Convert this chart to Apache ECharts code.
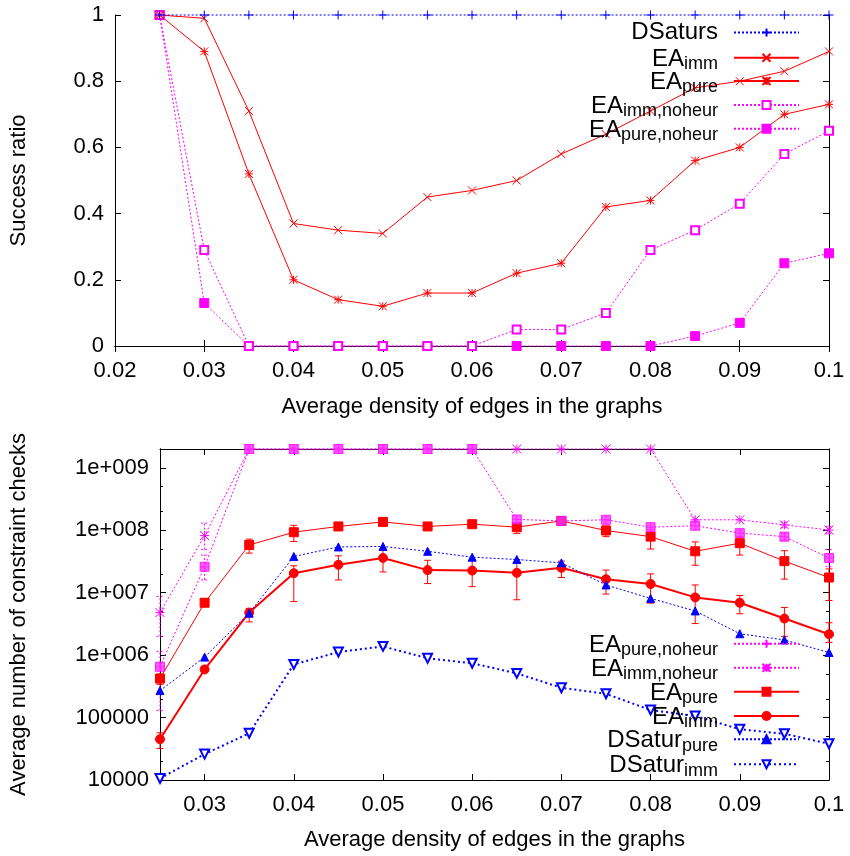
<!DOCTYPE html>
<html>
<head>
<meta charset="utf-8">
<script src="https://cdn.jsdelivr.net/npm/echarts/dist/echarts.min.js"></script>
<style>html,body{margin:0;padding:0;background:#fff}#c{width:850px;height:856px}</style>
</head>
<body>
<div id="c"></div>
<script>
// ---------- data ----------
const densities = [0.025, 0.03, 0.035, 0.04, 0.045, 0.05, 0.055, 0.06, 0.065, 0.07, 0.075, 0.08, 0.085, 0.09, 0.095, 0.1];

// top chart: success ratio
const topDSaturs      = [1, 1, 1, 1, 1, 1, 1, 1, 1, 1, 1, 1, 1, 1, 1, 1];
const topEAimm        = [1, 0.99, 0.71, 0.37, 0.35, 0.34, 0.45, 0.47, 0.50, 0.58, 0.64, 0.71, 0.78, 0.80, 0.83, 0.89];
const topEApure       = [1, 0.89, 0.52, 0.20, 0.14, 0.12, 0.16, 0.16, 0.22, 0.25, 0.42, 0.44, 0.56, 0.60, 0.70, 0.73];
const topEAimmNoheur  = [1, 0.29, 0, 0, 0, 0, 0, 0, 0.05, 0.05, 0.10, 0.29, 0.35, 0.43, 0.58, 0.65];
const topEApureNoheur = [1, 0.13, 0, 0, 0, 0, 0, 0, 0, 0, 0, 0, 0.03, 0.07, 0.25, 0.28];

// bottom chart: average number of constraint checks
const botEApureNoheur = [6.5e5, 2.6e7, 2e9, 2e9, 2e9, 2e9, 2e9, 2e9, 1.49e8, 1.41e8, 1.47e8, 1.12e8, 1.18e8, 9.0e7, 7.9e7, 3.6e7];
const botEApureNoheurLow  = [1.3e5, 1.6e7, null, null, null, null, null, null, null, null, null, null, null, 8.0e7, 6.8e7, 2.6e7];
const botEApureNoheurHigh = [1.15e6, 4.0e7, null, null, null, null, null, null, null, null, null, null, null, 1.0e8, 9.0e7, 4.9e7];
const botEAimmNoheur  = [4.8e6, 8.2e7, 2e9, 2e9, 2e9, 2e9, 2e9, 2e9, 2e9, 2e9, 2e9, 2e9, 1.47e8, 1.47e8, 1.22e8, 1.01e8];
const botEAimmNoheurLow  = [2.0e6, 4.9e7, null, null, null, null, null, null, null, null, null, null, null, null, 1.1e8, 8.8e7];
const botEAimmNoheurHigh = [8.7e6, 1.3e8, null, null, null, null, null, null, null, null, null, null, null, null, 1.35e8, 1.15e8];
const botEApure       = [4.2e5, 6.9e6, 5.8e7, 9.3e7, 1.15e8, 1.36e8, 1.15e8, 1.25e8, 1.12e8, 1.41e8, 9.9e7, 7.9e7, 4.6e7, 6.2e7, 3.2e7, 1.75e7];
const botEApureLow    = [3.4e5, 6.3e6, 4.3e7, 6.6e7, 1.0e8, 1.25e8, 1.05e8, 1.15e8, 8.9e7, 1.3e8, 7.9e7, 5.0e7, 2.75e7, 4.0e7, 1.65e7, 7.5e6];
const botEApureHigh   = [5.0e5, 7.5e6, 7.2e7, 1.2e8, 1.3e8, 1.5e8, 1.25e8, 1.35e8, 1.3e8, 1.5e8, 1.17e8, 1.03e8, 6.5e7, 7.9e7, 4.7e7, 2.4e7];
const botEAimm        = [4.5e4, 5.9e5, 4.8e6, 2.05e7, 2.8e7, 3.6e7, 2.3e7, 2.26e7, 2.08e7, 2.5e7, 1.64e7, 1.38e7, 8.4e6, 6.9e6, 3.85e6, 2.16e6];
const botEAimmLow     = [3.2e4, 5.4e5, 3.4e6, 7.2e6, 1.6e7, 2.15e7, 1.4e7, 1.25e7, 7.7e6, 1.75e7, 9.5e6, 6.8e6, 3.2e6, 4.6e6, 2.0e6, 1.6e6];
const botEAimmHigh    = [5.7e4, 6.6e5, 5.6e6, 2.7e7, 3.9e7, 4.9e7, 3.3e7, 3.3e7, 3.4e7, 3.2e7, 2.3e7, 2.0e7, 1.33e7, 9.0e6, 5.8e6, 3.3e6];
const botDSaturPure   = [2.7e5, 9.3e5, 4.7e6, 3.8e7, 5.4e7, 5.5e7, 4.6e7, 3.7e7, 3.4e7, 3.0e7, 1.33e7, 8.1e6, 5.1e6, 2.2e6, 1.75e6, 1.1e6];
const botDSaturImm    = [1.06e4, 2.6e4, 5.6e4, 7.1e5, 1.12e6, 1.38e6, 8.9e5, 7.4e5, 5.1e5, 3.0e5, 2.4e5, 1.32e5, 1.06e5, 6.5e4, 5.5e4, 3.8e4];

// ticks
const topXTicks = [0.02, 0.03, 0.04, 0.05, 0.06, 0.07, 0.08, 0.09, 0.1];
const topXTickLabels = ['0.02', '0.03', '0.04', '0.05', '0.06', '0.07', '0.08', '0.09', '0.1'];
const topYTickLabels = ['0', '0.2', '0.4', '0.6', '0.8', '1'];
const botXTicks = [0.03, 0.04, 0.05, 0.06, 0.07, 0.08, 0.09, 0.1];
const botXTickLabels = ['0.03', '0.04', '0.05', '0.06', '0.07', '0.08', '0.09', '0.1'];
const botYTicks = [1e4, 1e5, 1e6, 1e7, 1e8, 1e9];
const botYTickLabels = ['10000', '100000', '1e+006', '1e+007', '1e+008', '1e+009'];
const botYMinorMultipliers = [2, 5];

// ---------- styling ----------
const FONT = "'Liberation Sans', Arial, Helvetica, sans-serif";
const RED = '#ff0000', BLUE = '#0000ff', MAG = '#ff00ff';
const SYM_PLUS = 'path://M5,0V10M0,5H10';
const SYM_X = 'path://M0,0L10,10M10,0L0,10';
const SYM_STAR = 'path://M0,0L10,10M10,0L0,10M5,0V10M0,5H10';

const minorTicks = [];
for (let e = 4; e <= 9; e++) botYMinorMultipliers.forEach(m => { const v = m * Math.pow(10, e); if (v <= 2e9) minorTicks.push(v); });

const pairs = arr => densities.map((x, i) => [x, arr[i]]);

function lineSeries(name, arr, xi, yi, o) {
  return {
    type: 'line', name, xAxisIndex: xi, yAxisIndex: yi, data: pairs(arr), clip: false,
    symbol: o.symbol, symbolSize: o.size, symbolRotate: o.rotate || 0,
    lineStyle: { color: o.color, width: o.width || 1, type: o.dash || 'solid' },
    itemStyle: { color: o.color, borderColor: o.color, borderWidth: o.bw == null ? 1 : o.bw },
    z: o.z || 3, animation: false
  };
}

function errorSeries(name, lows, highs, xi, yi, color, dash) {
  const data = [];
  densities.forEach((x, i) => { if (lows[i] != null) data.push([x, lows[i], highs[i]]); });
  return {
    type: 'custom', name, xAxisIndex: xi, yAxisIndex: yi, silent: true, z: 2, clip: false,
    data, encode: { x: 0, y: [1, 2] }, animation: false,
    renderItem: (params, api) => {
      const x = api.value(0);
      const lo = api.coord([x, api.value(1)]);
      const hi = api.coord([x, api.value(2)]);
      const w = 3.5;
      const style = { stroke: color, lineWidth: 1, fill: null, lineDash: dash || null };
      return { type: 'group', children: [
        { type: 'line', shape: { x1: lo[0], y1: lo[1], x2: hi[0], y2: hi[1] }, style },
        { type: 'line', shape: { x1: lo[0] - w, y1: lo[1], x2: lo[0] + w, y2: lo[1] }, style },
        { type: 'line', shape: { x1: hi[0] - w, y1: hi[1], x2: hi[0] + w, y2: hi[1] }, style }
      ]};
    }
  };
}

const legendText = {
  fontFamily: FONT, fontSize: 24, color: '#000', padding: [0, 11, 0, 0],
  rich: {
    m: { fontFamily: FONT, fontSize: 24, lineHeight: 25, color: '#000' },
    ms: { fontFamily: FONT, fontSize: 24, lineHeight: 25, color: '#000', padding: [3, 0, 0, 0] },
    s: { fontFamily: FONT, fontSize: 18, color: '#000', padding: [13, 0, 0, 0] }
  }
};
function legendFmt(name) {
  const n = name.trim();
  const i = n.indexOf('_');
  if (i < 0) return '{m|' + n + '}';
  return '{ms|' + n.slice(0, i) + '}{s|' + n.slice(i + 1) + '}';
}
function legendItem(name, centerY) {
  const hasSub = name.indexOf('_') >= 0;
  const off = hasSub ? -12.5 : -12.5;
  return {
    data: [name], orient: 'vertical', right: 50, top: centerY + off, align: 'right',
    itemWidth: 65, itemHeight: 10, padding: 0, selectedMode: false,
    formatter: legendFmt, textStyle: legendText
  };
}

const axisLineStyle = { show: true, lineStyle: { color: '#000', width: 1 } };
const labelStyle = { fontFamily: FONT, fontSize: 22, color: '#000' };
const nameStyle = { fontFamily: FONT, fontSize: 22, color: '#000' };

const option = {
  backgroundColor: '#fff',
  animation: false,
  grid: [
    { left: 115, right: 21, top: 15, height: 331 },
    { left: 160, right: 21, top: 449, height: 331 }
  ],
  xAxis: [
    { gridIndex: 0, type: 'value', position: 'bottom', min: 0.02, max: 0.1, interval: 0.01,
      axisLine: axisLineStyle, splitLine: { show: false },
      axisTick: { inside: true, length: 6, lineStyle: { color: '#000' } },
      axisLabel: Object.assign({ margin: 14, formatter: v => { const i = topXTicks.findIndex(t => Math.abs(t - v) < 1e-9); return i >= 0 ? topXTickLabels[i] : ''; } }, labelStyle),
      name: 'Average density of edges in the graphs', nameLocation: 'middle', nameGap: 50, nameTextStyle: nameStyle },
    { gridIndex: 0, type: 'value', position: 'top', min: 0.02, max: 0.1, interval: 0.01,
      axisLine: axisLineStyle, splitLine: { show: false },
      axisTick: { inside: true, length: 6, lineStyle: { color: '#000' } }, axisLabel: { show: false } },
    { gridIndex: 1, type: 'value', position: 'bottom', min: 0.025, max: 0.1,
      axisLine: axisLineStyle, splitLine: { show: false },
      axisTick: { inside: true, length: 6, customValues: botXTicks, lineStyle: { color: '#000' } },
      axisLabel: Object.assign({ margin: 14, customValues: botXTicks, formatter: v => { const i = botXTicks.findIndex(t => Math.abs(t - v) < 1e-9); return i >= 0 ? botXTickLabels[i] : ''; } }, labelStyle),
      name: 'Average density of edges in the graphs', nameLocation: 'middle', nameGap: 49, nameTextStyle: nameStyle },
    { gridIndex: 1, type: 'value', position: 'top', min: 0.025, max: 0.1,
      axisLine: axisLineStyle, splitLine: { show: false },
      axisTick: { inside: true, length: 6, customValues: botXTicks, lineStyle: { color: '#000' } },
      axisLabel: { show: false, customValues: botXTicks } }
  ],
  yAxis: [
    { gridIndex: 0, type: 'value', position: 'left', min: 0, max: 1, interval: 0.2,
      axisLine: axisLineStyle, splitLine: { show: false },
      axisTick: { inside: true, length: 6, lineStyle: { color: '#000' } },
      axisLabel: Object.assign({ margin: 11, formatter: v => topYTickLabels[Math.round(v * 5)] }, labelStyle),
      name: 'Success ratio', nameLocation: 'middle', nameGap: 85, nameRotate: 90, nameTextStyle: nameStyle },
    { gridIndex: 0, type: 'value', position: 'right', min: 0, max: 1, interval: 0.2,
      axisLine: axisLineStyle, splitLine: { show: false },
      axisTick: { inside: true, length: 6, lineStyle: { color: '#000' } }, axisLabel: { show: false } },
    { gridIndex: 1, type: 'log', logBase: 10, position: 'left', min: 1e4, max: 2e9,
      axisLine: axisLineStyle, splitLine: { show: false },
      axisTick: { inside: true, length: 6, customValues: botYTicks, lineStyle: { color: '#000' } },
      axisLabel: Object.assign({ margin: 11, customValues: botYTicks, formatter: v => { const i = botYTicks.findIndex(t => Math.abs(t - v) / t < 1e-6); return i >= 0 ? botYTickLabels[i] : ''; } }, labelStyle),
      name: 'Average number of constraint checks', nameLocation: 'middle', nameGap: 130, nameRotate: 90, nameTextStyle: nameStyle },
    { gridIndex: 1, type: 'log', logBase: 10, position: 'left', min: 1e4, max: 2e9,
      axisLine: axisLineStyle, splitLine: { show: false },
      axisTick: { inside: true, length: 3, customValues: minorTicks, lineStyle: { color: '#000' } },
      axisLabel: { show: false, customValues: minorTicks } },
    { gridIndex: 1, type: 'log', logBase: 10, position: 'right', min: 1e4, max: 2e9,
      axisLine: axisLineStyle, splitLine: { show: false },
      axisTick: { inside: true, length: 6, customValues: botYTicks, lineStyle: { color: '#000' } },
      axisLabel: { show: false, customValues: botYTicks } },
    { gridIndex: 1, type: 'log', logBase: 10, position: 'right', min: 1e4, max: 2e9,
      axisLine: axisLineStyle, splitLine: { show: false },
      axisTick: { inside: true, length: 3, customValues: minorTicks, lineStyle: { color: '#000' } },
      axisLabel: { show: false, customValues: minorTicks } }
  ],
  legend: [
    legendItem('DSaturs', 33),
    legendItem('EA_imm', 56.7),
    legendItem('EA_pure', 80),
    legendItem('EA_imm,noheur', 104),
    legendItem('EA_pure,noheur', 127.7),
    legendItem('EA_pure,noheur ', 642.7),
    legendItem('EA_imm,noheur ', 666.7),
    legendItem('EA_pure ', 690.7),
    legendItem('EA_imm ', 715),
    legendItem('DSatur_pure', 738.3),
    legendItem('DSatur_imm', 763.3)
  ],
  series: [
    // top chart
    lineSeries('EA_pure,noheur', topEApureNoheur, 0, 0, { color: MAG, symbol: 'rect', size: 9, dash: [2, 2] }),
    lineSeries('EA_imm,noheur', topEAimmNoheur, 0, 0, { color: MAG, symbol: 'emptyRect', size: 8, dash: [2, 2] }),
    lineSeries('EA_pure', topEApure, 0, 0, { color: RED, symbol: SYM_STAR, size: 8 }),
    lineSeries('EA_imm', topEAimm, 0, 0, { color: RED, symbol: SYM_X, size: 8 }),
    lineSeries('DSaturs', topDSaturs, 0, 0, { color: BLUE, symbol: SYM_PLUS, size: 9, dash: [2, 2], z: 5 }),
    // bottom chart
    errorSeries('err_pnh', botEApureNoheurLow, botEApureNoheurHigh, 2, 2, MAG, [2, 2]),
    errorSeries('err_inh', botEAimmNoheurLow, botEAimmNoheurHigh, 2, 2, MAG, [2, 2]),
    errorSeries('err_pure', botEApureLow, botEApureHigh, 2, 2, RED),
    errorSeries('err_imm', botEAimmLow, botEAimmHigh, 2, 2, RED),
    lineSeries('EA_pure,noheur ', botEApureNoheur, 2, 2, { color: MAG, symbol: SYM_PLUS, size: 9, dash: [2, 2] }),
    { type: 'scatter', name: 'pnh_box', xAxisIndex: 2, yAxisIndex: 2, data: pairs(botEApureNoheur), symbol: 'rect', symbolSize: 9,
      itemStyle: { color: '#ff33ff', borderColor: MAG, borderWidth: 1 }, z: 4, clip: false, silent: true, animation: false },
    lineSeries('EA_imm,noheur ', botEAimmNoheur, 2, 2, { color: MAG, symbol: SYM_STAR, size: 9, dash: [2, 2] }),
    lineSeries('EA_pure ', botEApure, 2, 2, { color: RED, symbol: 'rect', size: 9 }),
    lineSeries('EA_imm ', botEAimm, 2, 2, { color: RED, symbol: 'circle', size: 9, width: 2 }),
    lineSeries('DSatur_pure', botDSaturPure, 2, 2, { color: BLUE, symbol: 'triangle', size: 8, dash: [2, 2] }),
    lineSeries('DSatur_imm', botDSaturImm, 2, 2, { color: BLUE, symbol: 'emptyTriangle', rotate: 180, size: 9, width: 2, dash: [2, 3], bw: 1.5 })
  ]
};

const chart = echarts.init(document.getElementById('c'), null, { renderer: 'canvas' });
chart.setOption(option);
</script>
</body>
</html>
